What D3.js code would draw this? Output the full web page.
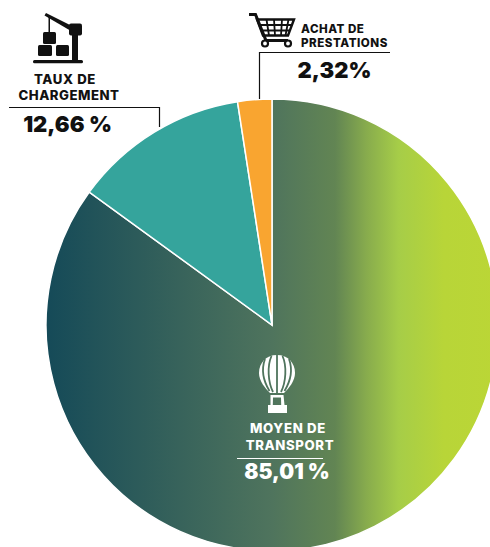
<!DOCTYPE html>
<html>
<head>
<meta charset="utf-8">
<script src="https://cdn.jsdelivr.net/npm/d3@7"></script>
<style>
  html, body { margin: 0; padding: 0; background: #fff; overflow: hidden; }
  text { font-family: Inter, "Open Sans", sans-serif; }
</style>
</head>
<body>
<script>
var width = 490;
var height = 547;
var cx = 272;
var cy = 325;
var radius = 226;

var categories = ["MOYEN DE TRANSPORT", "TAUX DE CHARGEMENT", "ACHAT DE PRESTATIONS"];
// slice sizes as drawn in the picture, the printed labels differ very slightly
var shares = [85.01, 12.55, 2.44];
var shareLabels = ["85,01 %", "12,66 %", "2,32%"];

var svg = d3.select("body").append("svg")
    .attr("width", width)
    .attr("height", height)
    .style("display", "block");

var defs = svg.append("defs");
// gradient coordinates are relative to the pie centre
var grad = defs.append("linearGradient")
    .attr("id", "transport")
    .attr("gradientUnits", "userSpaceOnUse")
    .attr("x1", -radius).attr("x2", radius).attr("y1", 0).attr("y2", 0);
grad.append("stop").attr("offset", "0%").attr("stop-color", "#154a58");
grad.append("stop").attr("offset", "50%").attr("stop-color", "#4f745d");
grad.append("stop").attr("offset", "64%").attr("stop-color", "#628553");
grad.append("stop").attr("offset", "71%").attr("stop-color", "#88ac4d");
grad.append("stop").attr("offset", "78%").attr("stop-color", "#a6cd48");
grad.append("stop").attr("offset", "88%").attr("stop-color", "#b8d538");
grad.append("stop").attr("offset", "100%").attr("stop-color", "#bbd636");

var fills = d3.scaleOrdinal()
    .domain(categories)
    .range(["url(#transport)", "#35a49c", "#f9a530"]);

var pie = d3.pie().sort(null).value((d, i) => shares[i]);
var arc = d3.arc().innerRadius(0).outerRadius(radius);

svg.append("g")
    .attr("transform", "translate(" + cx + "," + cy + ")")
    .selectAll("path")
    .data(pie(categories))
    .enter()
    .append("path")
    .attr("d", arc)
    .attr("fill", (d) => fills(d.data))
    .attr("stroke", "#fff")
    .attr("stroke-width", 1.5);

function label(x, y, value, size, color, spacing, anchor, weight) {
    svg.append("text")
        .attr("x", x).attr("y", y)
        .attr("text-anchor", anchor || "middle")
        .attr("font-size", size)
        .attr("font-weight", weight || 800)
        .attr("fill", color)
        .attr("letter-spacing", spacing || 0)
        .text(value);
}

// leader lines
var leaders = svg.append("g").attr("fill", "none").attr("stroke", "#111").attr("stroke-width", 1.2);
leaders.append("path").attr("d", "M9,107.5H159.5V127");
leaders.append("path").attr("d", "M390,52.5H259.5V99");
svg.append("path").attr("d", "M237,458.5H323").attr("stroke", "#fff").attr("stroke-width", 1);

label(65, 84, "TAUX DE", 13.2, "#111", 0.6);
label(69, 100, "CHARGEMENT", 13.2, "#111", 0.5);
label(67.5, 132, shareLabels[1], 22, "#111", 0, "middle", 900);

label(301, 33, "ACHAT DE", 11.6, "#111", 0.5, "start");
label(301, 47, "PRESTATIONS", 11.6, "#111", 0.5, "start");
label(334.5, 78, shareLabels[2], 22, "#111", 0, "middle", 900);

label(288, 433, "MOYEN DE", 13.2, "#fff", 0.7);
label(290, 450, "TRANSPORT", 13.2, "#fff", 0.6);
label(287, 479, shareLabels[0], 21, "#fff", 0, "middle", 900);

// crane icon
var crane = svg.append("g").attr("fill", "#111");
crane.append("rect").attr("x", 33).attr("y", 60).attr("width", 50).attr("height", 3.2).attr("rx", 1.5);
[[38, 45, 14, 11], [56, 45, 13, 11], [43, 32, 13, 12]].forEach((b) => {
    crane.append("rect").attr("x", b[0]).attr("y", b[1]).attr("width", b[2]).attr("height", b[3]).attr("rx", 1.5);
});
crane.append("path").attr("d", "M72,34H78V60H72Z");
crane.append("rect").attr("x", 69).attr("y", 23.500).attr("width", 13).attr("height", 12).attr("rx", 2);
crane.append("path").attr("d", "M44.500,15.500L46,13L72,26L71,31Z");
crane.append("path").attr("d", "M48.500,17H50V32H48.500Z");

// cart icon
var cart = svg.append("g").attr("fill", "none").attr("stroke", "#111");
cart.append("path").attr("d", "M249,14.500H255.500L266,40.500H288").attr("stroke-width", 3);
cart.append("path").attr("d", "M257,19.500H294L288,35.500H263Z").attr("stroke-width", 2.4);
cart.append("path").attr("d", "M266.500,19.500L269,35.500 M274,19.500L275,35.500 M282,19.500L281,35.500 M288.500,19.500L285.500,35.500 M259,25H292.500 M261,30.500H290").attr("stroke-width", 1.8);
cart.append("circle").attr("cx", 265).attr("cy", 43.500).attr("r", 3).attr("stroke-width", 2.2).attr("fill", "#fff");
cart.append("circle").attr("cx", 288).attr("cy", 43.500).attr("r", 3).attr("stroke-width", 2.2).attr("fill", "#fff");

// balloon icon
var balloon = svg.append("g").attr("fill", "#fff");
balloon.append("path").attr("d", "M277,355C266,355 259,363 259,373C259,381 265,388 270,393H284C289,388 295,381 295,373C295,363 288,355 277,355Z");
balloon.append("path").attr("d", "M271.500,356C267,366 268,382 273,392 M282.500,356C287,366 286,382 281,392 M277,354V393 M265,359C261,370 264,382 269.500,391 M289,359C293,370 290,382 284.500,391")
    .attr("fill", "none").attr("stroke", "#4f745d").attr("stroke-width", 1.8);
balloon.append("path").attr("d", "M270.500,395H283.500L284.500,405H287V413H268V405H270.500Z M273,397.500L272.800,405H281.200L281,397.500Z").attr("fill-rule", "evenodd");
</script>
</body>
</html>
